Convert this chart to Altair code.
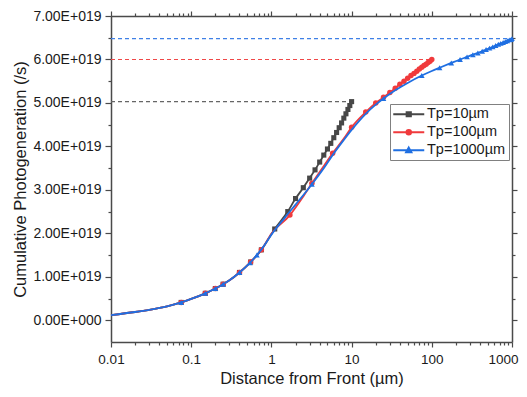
import altair as alt
import pandas as pd

series_names = ["Tp=10µm", "Tp=100µm", "Tp=1000µm"]
line_colors = ["#474747", "#F03A3C", "#1F6FE2"]
dash_colors = ["#666666", "#F04848", "#3F80E6"]
marker_shapes = ["square", "circle", "triangle-up"]
marker_sizes = [26, 30, 32]

# Tp = 10 um (y in units of 1e19 /s)
x10 = [0.01, 0.02, 0.03, 0.05, 0.075, 0.1, 0.15, 0.2, 0.25, 0.3, 0.4, 0.55, 0.75,
       1.1, 1.6, 2.0, 2.5, 3.0, 3.5, 4.0, 4.5, 5.0, 5.5, 6.0, 6.5, 7.0, 7.5, 8.0,
       8.5, 9.0, 9.5, 10]
y10 = [0.12, 0.19, 0.24, 0.32, 0.41, 0.49, 0.62, 0.73, 0.83, 0.92, 1.10, 1.34, 1.62,
       2.10, 2.50, 2.80, 3.05, 3.27, 3.46, 3.64, 3.80, 3.94, 4.07, 4.20, 4.32, 4.43,
       4.54, 4.65, 4.75, 4.85, 4.94, 5.03]
m10 = [0, 0, 0, 0, 1, 0, 1, 1, 1, 0, 1, 1, 1,
       1, 1, 1, 1, 1, 1, 1, 1, 1, 1, 1, 1, 1, 1, 1, 1, 1, 1, 1]

# Tp = 100 um
x100 = [0.01, 0.02, 0.03, 0.05, 0.075, 0.1, 0.15, 0.2, 0.25, 0.3, 0.4, 0.55, 0.75,
        1.0, 1.7, 2.5, 3.2, 4.5, 5.8, 8.0, 10, 15, 20, 25, 30, 35, 40, 45, 50, 55,
        60, 65, 70, 75, 80, 85, 90, 95, 100]
y100 = [0.12, 0.19, 0.24, 0.32, 0.41, 0.49, 0.62, 0.73, 0.83, 0.92, 1.10, 1.34, 1.62,
        1.99, 2.42, 2.85, 3.15, 3.55, 3.84, 4.18, 4.44, 4.79, 5.00, 5.13, 5.24, 5.34,
        5.43, 5.50, 5.57, 5.63, 5.68, 5.73, 5.78, 5.82, 5.86, 5.89, 5.93, 5.96, 6.00]
m100 = [0, 0, 0, 0, 1, 0, 1, 1, 1, 0, 1, 1, 1,
        0, 1, 0, 1, 0, 1, 0, 1, 1, 1, 1, 1, 1, 1, 1, 1, 1, 1, 1, 1, 1, 1, 1, 1, 1, 1]

# Tp = 1000 um
x1000 = [0.01, 0.02, 0.03, 0.05, 0.075, 0.1, 0.15, 0.2, 0.25, 0.3, 0.4, 0.54, 0.66,
         0.8, 1.0, 1.5, 2.0, 3.2, 4.5, 6.0, 8.0, 10, 15, 20, 25, 35, 50, 75, 100, 125,
         175, 225, 275, 325, 375, 425, 475, 525, 575, 625, 675, 725, 775, 825, 875,
         925, 975, 1000]
y1000 = [0.12, 0.19, 0.24, 0.32, 0.41, 0.49, 0.62, 0.73, 0.83, 0.92, 1.10, 1.32, 1.50,
         1.70, 1.97, 2.38, 2.66, 3.13, 3.50, 3.84, 4.15, 4.38, 4.75, 4.96, 5.10, 5.29,
         5.46, 5.63, 5.735, 5.81, 5.92, 6.00, 6.06, 6.11, 6.15, 6.19, 6.23, 6.26, 6.29,
         6.32, 6.35, 6.37, 6.39, 6.41, 6.43, 6.45, 6.46, 6.48]
m1000 = [0, 0, 0, 0, 1, 0, 1, 1, 1, 0, 1, 1, 1,
         0, 0, 0, 0, 1, 0, 0, 0, 0, 0, 0, 1, 0, 0, 1, 0, 1,
         1, 1, 1, 1, 1, 1, 1, 1, 1, 1, 1, 1, 1, 1, 1, 1, 1, 1]

# dashed guide levels (end value of each curve)
ref_levels = [5.03, 6.00, 6.48]
ref_x_start = [0.01, 0.01, 0.01]
ref_x_end = [10, 100, 1000]

x_major = [0.01, 0.1, 1, 10, 100, 1000]
x_minor = [k * 10.0 ** d for d in range(-2, 3) for k in range(2, 10)]
y_major = [0, 1, 2, 3, 4, 5, 6, 7]
y_minor = [0.5, 1.5, 2.5, 3.5, 4.5, 5.5, 6.5]

xs_all = [x10, x100, x1000]
ys_all = [y10, y100, y1000]
ms_all = [m10, m100, m1000]

frames = []
for name, xs, ys, ms in zip(series_names, xs_all, ys_all, ms_all):
    frames.append(pd.DataFrame({"series": name, "x": xs, "y": ys, "marker": ms,
                                "idx": range(len(xs))}))
df = pd.concat(frames, ignore_index=True)
df_ref = pd.DataFrame({"series": series_names, "x0": ref_x_start, "x1": ref_x_end,
                       "level": ref_levels})

FONT = "Liberation Sans"
xscale = alt.Scale(type="log", domain=[0.01, 1000], nice=False)
yscale = alt.Scale(domain=[-0.5, 7], nice=False, zero=False)

layers = []

# axis carrier layers (invisible marks)
def carrier(xaxis, yaxis):
    return alt.Chart(df_ref).mark_point(opacity=0).encode(
        x=alt.X("x1:Q", scale=xscale, axis=xaxis),
        y=alt.Y("level:Q", scale=yscale, axis=yaxis),
    )

ylab = "datum.value == 0 ? '0.00E+000' : format(datum.value, '.2f') + 'E+019'"
layers.append(carrier(
    alt.Axis(orient="bottom", values=x_major, format="~g", tickSize=5, labelPadding=5,
             labelFlush=False, labelOverlap=False, title="Distance from Front (µm)",
             titlePadding=5, titleFontSize=16.5,
             labelAlign={"condition": {"test": "datum.value >= 1000", "value": "right"},
                         "value": "center"},
             labelOffset={"condition": {"test": "datum.value >= 1000", "value": 6},
                          "value": 0}),
    alt.Axis(orient="left", values=y_major, labelExpr=ylab, tickSize=6, labelPadding=4,
             labelFontSize=14, labelOverlap=False, title="Cumulative Photogeneration (/s)",
             titlePadding=4, titleFontSize=16.5),
))
layers.append(carrier(
    alt.Axis(orient="bottom", values=x_minor, labels=False, domain=False, tickSize=3, title=""),
    alt.Axis(orient="left", values=y_minor, labels=False, domain=False, tickSize=3, title=""),
))
layers.append(carrier(
    alt.Axis(orient="top", values=x_major, labels=False, tickSize=5, title=""),
    alt.Axis(orient="right", values=y_major, labels=False, tickSize=5, title=""),
))
layers.append(carrier(
    alt.Axis(orient="top", values=x_minor, labels=False, domain=False, tickSize=3, title=""),
    alt.Axis(orient="right", values=y_minor, labels=False, domain=False, tickSize=3, title=""),
))

# dashed reference lines
for name, dc in zip(series_names, dash_colors):
    layers.append(alt.Chart(df_ref).transform_filter(alt.datum.series == name).mark_rule(
        strokeDash=[4, 3], strokeWidth=1.1, color=dc).encode(
        x=alt.X("x0:Q", scale=xscale, axis=None),
        x2="x1:Q",
        y=alt.Y("level:Q", scale=yscale, axis=None),
    ))

for name, col, shp, sz in zip(series_names, line_colors, marker_shapes, marker_sizes):
    base = alt.Chart(df).transform_filter(alt.datum.series == name)
    layers.append(base.mark_line(strokeWidth=1.8, interpolate="monotone", color=col).encode(
        x=alt.X("x:Q", scale=xscale, axis=None),
        y=alt.Y("y:Q", scale=yscale, axis=None),
        order="idx:Q",
    ))
    layers.append(base.transform_filter(alt.datum.marker == 1).mark_point(
        shape=shp, filled=True, size=sz, opacity=1, color=col).encode(
        x=alt.X("x:Q", scale=xscale, axis=None),
        y=alt.Y("y:Q", scale=yscale, axis=None),
    ))

# legend layer (no data drawn, only the legend)
legend_paths = [
    "M-3.1,0H3.1M-0.42,-0.42H0.42V0.42H-0.42Z",
    "M-3.1,0H3.1M0.45,0A0.45,0.45 0 1,1 -0.45,0A0.45,0.45 0 1,1 0.45,0Z",
    "M-3.1,0H3.1M0,-0.52L0.52,0.4H-0.52Z",
]
leg = alt.Legend(title=None, orient="none", legendX=279, legendY=88, padding=3,
                 rowPadding=3, symbolSize=100, symbolStrokeWidth=2, symbolOffset=8.5,
                 labelOffset=11, labelFontSize=14.5, labelFont=FONT, labelColor="#1a1a1a",
                 strokeColor="#808080", fillColor="white", symbolOpacity=1)
layers.append(alt.Chart(df).transform_filter("datum.x < 0").mark_point(
    filled=True, size=100, opacity=1).encode(
    x=alt.X("x:Q", scale=xscale, axis=None),
    y=alt.Y("y:Q", scale=yscale, axis=None),
    color=alt.Color("series:N", scale=alt.Scale(domain=series_names, range=line_colors), legend=leg),
    stroke=alt.Stroke("series:N", scale=alt.Scale(domain=series_names, range=line_colors), legend=leg),
    shape=alt.Shape("series:N", scale=alt.Scale(domain=series_names, range=legend_paths), legend=leg),
))

chart = alt.layer(*layers).resolve_axis(x="independent", y="independent").properties(
    width=401, height=326,
    autosize=alt.AutoSizeParams(type="none"),
    padding={"left": 103, "top": 8, "right": 7, "bottom": 47},
).configure_view(stroke=None).configure_axis(
    grid=False, labelFont=FONT, titleFont=FONT, labelFontSize=13.5, titleFontSize=16,
    titleFontWeight="normal", labelColor="#1a1a1a", titleColor="#1a1a1a",
    domainColor="#4a4a4a", domainWidth=1.5, tickColor="#4a4a4a", tickWidth=1.2,
)

chart.save("out.html", embed_options={"renderer": "svg", "actions": False})
